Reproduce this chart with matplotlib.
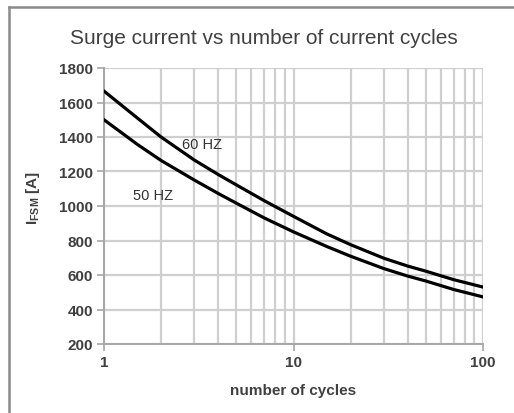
import matplotlib
matplotlib.use("Agg")
import matplotlib.pyplot as plt
from matplotlib.lines import Line2D
from matplotlib.ticker import NullFormatter, LogLocator

plt.rcParams['font.family'] = ['Liberation Sans', 'DejaVu Sans']
plt.rcParams['mathtext.fontset'] = 'custom'
plt.rcParams['mathtext.rm'] = 'Liberation Sans'
plt.rcParams['mathtext.bf'] = 'Liberation Sans:bold'

title = "Surge current vs number of current cycles"
xlabel = "number of cycles"
ylabel = r"$\mathbf{I}_{\mathbf{FSM}}$ [A]"

cycles = [1, 1.5, 2, 3, 4, 5, 7, 10, 15, 20, 30, 40, 50, 70, 100]
i_60hz = [1666, 1510, 1400, 1266, 1183, 1122, 1031, 940, 838, 776, 697, 652, 622, 573, 530]
i_50hz = [1500, 1357, 1264, 1150, 1073, 1016, 931, 850, 765, 709, 637, 594, 565, 516, 473]

yticks = [200, 400, 600, 800, 1000, 1200, 1400, 1600, 1800]
xticks = [1, 10, 100]
xticklabels = ["1", "10", "100"]

label_60 = "60 HZ"
label_50 = "50 HZ"

txt = "#404040"
gridc = "#cfcfcf"
spinec = "#a6a6a6"

fig = plt.figure(figsize=(5.14, 4.14), dpi=100)
fig.patch.set_facecolor("white")
ax = fig.add_axes([104/514, 1 - 345/414, (483 - 104)/514, (345 - 69)/414])

ax.plot(cycles, i_60hz, color="black", lw=2.3, zorder=3)
ax.plot(cycles, i_50hz, color="black", lw=2.3, zorder=3)

ax.set_xscale("log")
ax.set_xlim(1, 100)
ax.set_ylim(200, 1800)
ax.set_yticks(yticks)
ax.set_xticks(xticks)
ax.set_xticklabels(xticklabels)
ax.xaxis.set_minor_locator(LogLocator(base=10, subs=range(2, 10)))
ax.xaxis.set_minor_formatter(NullFormatter())

ax.grid(True, which="major", axis="y", color=gridc, lw=1.6)
ax.grid(True, which="both", axis="x", color=gridc, lw=1.6)
ax.set_axisbelow(True)

for s in ["top", "right"]:
    ax.spines[s].set_visible(False)
for s in ["left", "bottom"]:
    ax.spines[s].set_color(spinec)
    ax.spines[s].set_linewidth(1.4)

ax.tick_params(axis="both", which="major", color=spinec, length=5, width=1.2,
               labelsize=11, labelcolor=txt, pad=3)
ax.tick_params(axis="x", which="minor", length=0)
for lab in ax.get_yticklabels() + ax.get_xticklabels():
    lab.set_fontweight("bold")

fig.text(264/514, 1 - 38/414, title, fontsize=15, color=txt, ha="center", va="center")
ax.set_xlabel(xlabel, fontsize=11, fontweight="bold", color=txt, labelpad=10)
ax.set_ylabel(ylabel, fontsize=11, fontweight="bold", color=txt)
ax.yaxis.set_label_coords(-(104 - 42)/(483 - 104), (345 - 198)/(345 - 69))

ax.text(2.58, 1362, label_60, fontsize=10.5, color="#333333", va="center", ha="left")
ax.text(1.42, 1062, label_50, fontsize=10.5, color="#333333", va="center", ha="left")

# outer frame
fig.add_artist(Line2D([9/514, 9/514], [0, 1 - 8/414], transform=fig.transFigure,
                      color="#8a8a8a", lw=1.8))
fig.add_artist(Line2D([9/514, 1], [1 - 8/414, 1 - 8/414], transform=fig.transFigure,
                      color="#8a8a8a", lw=1.8))

fig.savefig("out.png", dpi=100, facecolor="white")
